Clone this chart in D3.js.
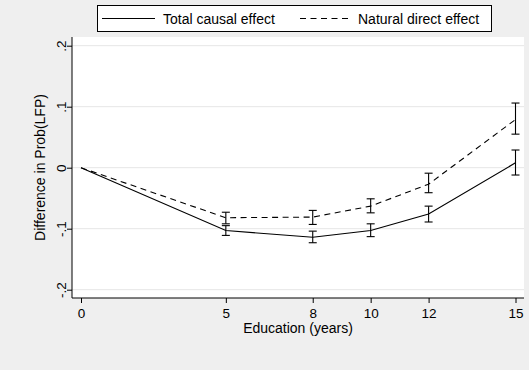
<!DOCTYPE html>
<html>
<head>
<meta charset="utf-8">
<script src="https://cdn.jsdelivr.net/npm/d3@7"></script>
<style>
  html, body { margin: 0; padding: 0; background: #efefef; }
  svg { display: block; font-family: "Liberation Sans", Arial, Helvetica, sans-serif; }
</style>
</head>
<body>
<svg id="chart" width="529" height="370"></svg>
<script>
// education years (x)
const years = [0, 5, 8, 10, 12, 15];
// total causal effect + CI
const totalEst = [0, -0.103, -0.114, -0.103, -0.076, 0.008];
const totalLo  = [null, -0.111, -0.123, -0.113, -0.089, -0.012];
const totalHi  = [null, -0.095, -0.104, -0.092, -0.063, 0.029];
// natural direct effect + CI
const directEst = [0, -0.082, -0.081, -0.063, -0.027, 0.079];
const directLo  = [null, -0.092, -0.093, -0.074, -0.041, 0.055];
const directHi  = [null, -0.073, -0.070, -0.051, -0.009, 0.106];
const yTicks = [-0.2, -0.1, 0, 0.1, 0.2];
const yTickLabels = ["-.2", "-.1", "0", ".1", ".2"];

const svg = d3.select("#chart");

// plot region
const plot = { left: 72, right: 524, top: 37, bottom: 298 };

const x = d3.scaleLinear().domain([0, 15]).range([81, 515.5]);
const y = d3.scaleLinear().domain([-0.2, 0.2]).range([289.7, 45.7]);

svg.append("rect")
  .attr("x", plot.left).attr("y", plot.top)
  .attr("width", plot.right - plot.left).attr("height", plot.bottom - plot.top)
  .attr("fill", "#fff");

// gridlines
svg.append("g").selectAll("line")
  .data(yTicks).enter().append("line")
  .attr("x1", plot.left).attr("x2", plot.right)
  .attr("y1", d => y(d)).attr("y2", d => y(d))
  .attr("stroke", "#e6e6e6").attr("stroke-width", 1);

// axes
const yAxis = d3.axisLeft(y).tickValues(yTicks).tickSize(5).tickPadding(5)
  .tickFormat((d, i) => yTickLabels[i]);
const gy = svg.append("g").attr("transform", `translate(${plot.left},0)`).call(yAxis);
gy.select(".domain").attr("d", `M0,${plot.top}V${plot.bottom}`).attr("stroke", "#000");
gy.selectAll(".tick line").attr("stroke", "#000");
gy.selectAll(".tick text")
  .attr("font-size", 13.5).attr("fill", "#000")
  .attr("text-anchor", "middle").attr("dy", 0)
  .attr("transform", "translate(-6,0) rotate(-90)")
  .attr("x", 0).attr("y", 0);

const xAxis = d3.axisBottom(x).tickValues(years).tickSize(5).tickPadding(5);
const gx = svg.append("g").attr("transform", `translate(0,${plot.bottom})`).call(xAxis);
gx.select(".domain").attr("d", `M${plot.left},0H${plot.right}`).attr("stroke", "#000");
gx.selectAll(".tick line").attr("stroke", "#000");
gx.selectAll(".tick text").attr("font-size", 13.5).attr("fill", "#000");

// axis titles
svg.append("text")
  .attr("transform", `translate(45,${(plot.top + plot.bottom) / 2}) rotate(-90)`)
  .attr("text-anchor", "middle").attr("font-size", 14).attr("fill", "#000")
  .text("Difference in Prob(LFP)");
svg.append("text")
  .attr("x", 298).attr("y", 333)
  .attr("text-anchor", "middle").attr("font-size", 14).attr("fill", "#000")
  .text("Education (years)");

const line = d3.line().x(d => x(d[0])).y(d => y(d[1]));

function drawSeries(est, lo, hi, dash) {
  const pts = years.map((yr, i) => [yr, est[i]]);
  svg.append("path")
    .attr("d", line(pts))
    .attr("fill", "none").attr("stroke", "#000").attr("stroke-width", 1.1)
    .attr("stroke-dasharray", dash);
  const bars = years.map((yr, i) => ({ yr, lo: lo[i], hi: hi[i] })).filter(d => d.lo != null);
  const g = svg.append("g").attr("stroke", "#000").attr("stroke-width", 1.1);
  bars.forEach(d => {
    g.append("line").attr("x1", x(d.yr)).attr("x2", x(d.yr)).attr("y1", y(d.lo)).attr("y2", y(d.hi));
    g.append("line").attr("x1", x(d.yr) - 4).attr("x2", x(d.yr) + 4).attr("y1", y(d.lo)).attr("y2", y(d.lo));
    g.append("line").attr("x1", x(d.yr) - 4).attr("x2", x(d.yr) + 4).attr("y1", y(d.hi)).attr("y2", y(d.hi));
  });
}
drawSeries(totalEst, totalLo, totalHi, null);
drawSeries(directEst, directLo, directHi, "6,4.5");

// legend
const leg = svg.append("g");
leg.append("rect").attr("x", 97.5).attr("y", 5.5).attr("width", 394).attr("height", 26)
  .attr("fill", "#fff").attr("stroke", "#000").attr("stroke-width", 1);
leg.append("line").attr("x1", 102).attr("x2", 155).attr("y1", 18.5).attr("y2", 18.5)
  .attr("stroke", "#000").attr("stroke-width", 1.1);
leg.append("text").attr("x", 163).attr("y", 24).attr("font-size", 14).text("Total causal effect");
leg.append("line").attr("x1", 300).attr("x2", 351).attr("y1", 18.5).attr("y2", 18.5)
  .attr("stroke", "#000").attr("stroke-width", 1.1).attr("stroke-dasharray", "6,4.5");
leg.append("text").attr("x", 358).attr("y", 24).attr("font-size", 14).text("Natural direct effect");
</script>
</body>
</html>
